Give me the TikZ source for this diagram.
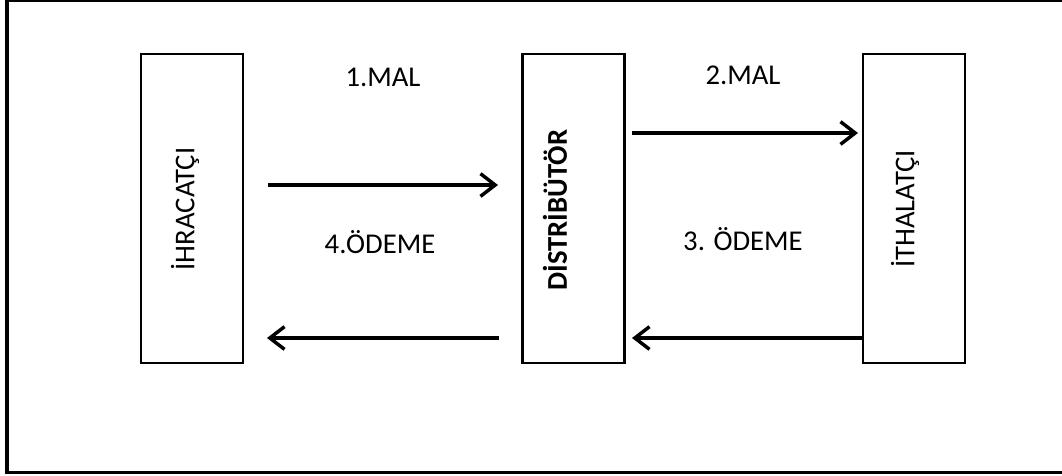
\documentclass[tikz,border=0pt]{standalone}
\usepackage{fontspec}
\setmainfont{Carlito}
\usetikzlibrary{arrows.meta}
\begin{document}
\begin{tikzpicture}[x=0.75pt,y=-0.75pt,
  party/.style={draw, line width=1.7pt, minimum width=76.5pt, minimum height=231.75pt, inner sep=0pt},
  flow/.style={line width=2.6pt, -{Straight Barb[length=11pt,width=17pt,line width=2.6pt]}},
  lbl/.style={font=\fontsize{21.5}{24}\selectfont, inner sep=0pt},
  side/.style={lbl, rotate=90}]
  \useasboundingbox (0,0) rectangle (1062,475);
  \begin{scope}
    \clip (0,0) rectangle (1062,475);
    \draw[line width=2.4pt] (7,0.3) rectangle (1075,472.5);
  \end{scope}

  % the three parties
  \node[party] (ihr) at (192,208.5) {};
  \node[party] (dis) at (573.5,208.5) {};
  \node[party] (ith) at (914,208.5) {};
  \node[side] (ihrT) at (185,209) {İHRACATÇI};
  \node[side, font=\fontsize{21.5}{24}\selectfont\bfseries] (disT) at (555,210) {DİSTRİBÜTÖR};
  \node[side] (ithT) at (905,209) {İTHALATÇI};

  % arrow ends
  \coordinate (a1s) at (268,185);
  \coordinate (a1e) at (498,185);
  \coordinate (a4s) at (499,338);
  \coordinate (a4e) at (267,338);
  \coordinate (a2s) at (632,133);
  \coordinate (a2e) at (858,133);
  \coordinate (a3e) at (632,338);

  \draw[flow] (a1s) -- (a1e);
  \draw[flow] (a4s) -- (a4e);
  \draw[flow] (a2s) -- (a2e);
  \draw[flow] (ith.west |- a3e) -- (a3e);

  % step labels
  \node[lbl] (l1) at (383,77) {1.MAL};
  \node[lbl] (l4) at (380,242) {4.ÖDEME};
  \node[lbl] (l2) at (743,75) {2.MAL};
  \node[lbl] (l3) at (743,239) {3. ÖDEME};
\end{tikzpicture}
\end{document}
